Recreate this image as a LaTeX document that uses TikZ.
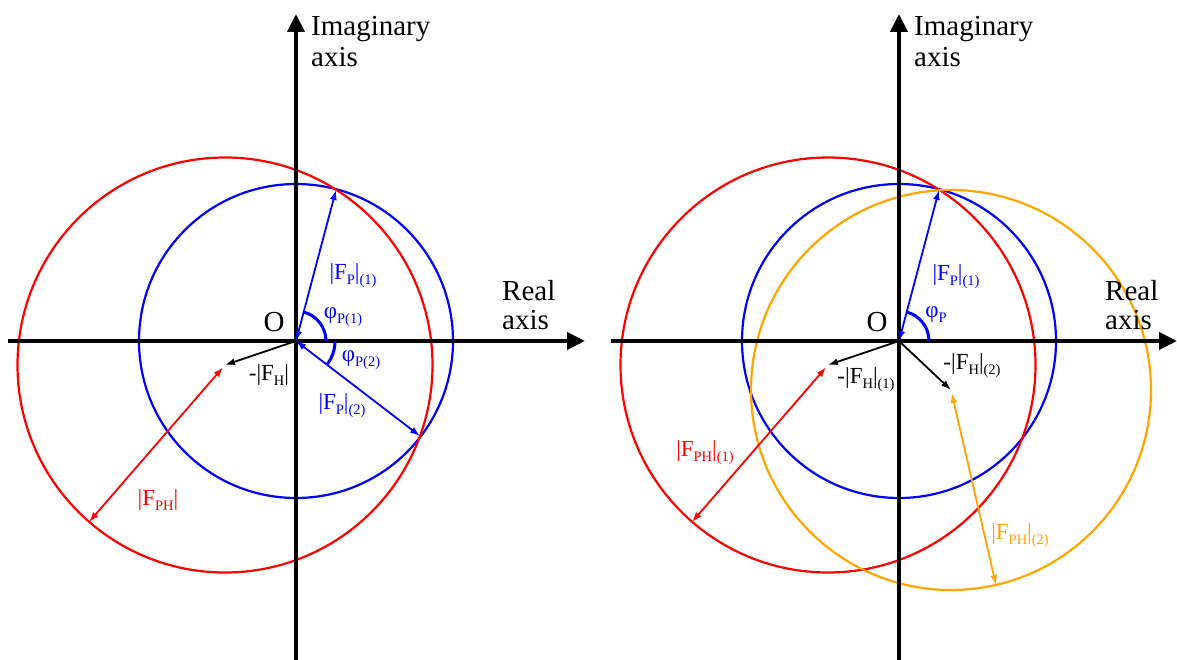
\documentclass[tikz,border=0pt]{standalone}
\usepackage{fontspec}
\setmainfont{Liberation Serif}
\usetikzlibrary{arrows.meta}
\definecolor{myblue}{RGB}{0,0,255}
\definecolor{myred}{RGB}{255,0,0}
\definecolor{myorange}{RGB}{255,165,0}
\newcommand\subt[1]{\raisebox{-5pt}{\fontsize{14.5}{15}\selectfont #1}}
\begin{document}
\begin{tikzpicture}[x=1pt,y=-1pt,
  >={Latex[length=10pt,width=7pt]},
  axis/.style={line width=4pt,-{Triangle[length=18pt,width=17pt]}},
  circ/.style={line width=2.2pt},
  vec/.style={line width=1.8pt},
  angarc/.style={line width=3pt,myblue},
  big/.style={font=\fontsize{29}{32}\selectfont,inner sep=0pt},
  lab/.style={font=\fontsize{23}{26}\selectfont,inner sep=0pt}]
\fill[white] (0,0) rectangle (1177,660);
\useasboundingbox (0,0) rectangle (1177,660);
% ---------- coordinates, left panel
\coordinate (O1) at (296,341);
\coordinate (C1) at (225,365);
\coordinate (P1L) at (336,190);
\coordinate (P2L) at (420,436);
\coordinate (R1L) at (89,522);
\coordinate (xs1) at (8,341);
\coordinate (xe1) at (585,341);
\coordinate (ys1) at (296,660);
\coordinate (ye1) at (296,14);
% ---------- coordinates, right panel
\coordinate (O2) at (899,341);
\coordinate (C2) at (828,365);
\coordinate (D2) at (951,390);
\coordinate (P1R) at (939,190);
\coordinate (R1R) at (692,522);
\coordinate (Q2R) at (996,585);
\coordinate (xs2) at (611,341);
\coordinate (xe2) at (1177,341);
\coordinate (ys2) at (899,660);
\coordinate (ye2) at (899,14);
% ---------- circles
\draw[circ,myblue] (O1) circle (157pt);
\draw[circ,myred] (C1) circle (207.5pt);
\draw[circ,myblue] (O2) circle (157pt);
\draw[circ,myred] (C2) circle (207.5pt);
\draw[circ,myorange] (D2) circle (200pt);
% ---------- axes
\draw[axis] (xs1) -- (xe1);
\draw[axis] (ys1) -- (ye1);
\draw[axis] (xs2) -- (xe2);
\draw[axis] (ys2) -- (ye2);
% ---------- vectors left
\draw[vec,myblue,<->] (O1) -- (P1L);
\draw[vec,myblue,<->] (O1) -- (P2L);
\draw[vec,black,->] (O1) -- (C1);
\draw[vec,myred,<->,shorten <=3pt] (C1) -- (R1L);
\draw[angarc] ([xshift=30pt]O1) arc[start angle=0,end angle=75,radius=30pt];
\draw[angarc] ([xshift=39pt]O1) arc[start angle=0,end angle=-36,radius=39pt];
% ---------- vectors right
\draw[vec,myblue,<->] (O2) -- (P1R);
\draw[vec,black,->] (O2) -- (C2);
\draw[vec,black,->] (O2) -- (D2);
\draw[vec,myred,<->,shorten <=3pt] (C2) -- (R1R);
\draw[vec,myorange,<->,shorten <=3pt] (D2) -- (Q2R);
\draw[angarc] ([xshift=30pt]O2) arc[start angle=0,end angle=75,radius=30pt];
% ---------- labels left
\node[big,anchor=base west] (im1a) at (311,36) {Imaginary};
\node[big,anchor=base west] (im1b) at (311,67) {axis};
\node[big,anchor=base west] (re1a) at (502,300) {Real};
\node[big,anchor=base west] (re1b) at (502,329) {axis};
\node[big] (o1) at (274,322) {O};
\node[lab,myblue] (fp1L) at (353,276) {|F\subt{P}|\subt{(1)}};
\node[lab,myblue] (ph1L) at (343,317) {φ\subt{P(1)}};
\node[lab,myblue] (ph2L) at (361,360) {φ\subt{P(2)}};
\node[lab] (fhL) at (269,375) {-|F\subt{H}|};
\node[lab,myblue] (fp2L) at (342,406) {|F\subt{P}|\subt{(2)}};
\node[lab,myred] (fphL) at (158,500) {|F\subt{PH}|};
% ---------- labels right
\node[big,anchor=base west] (im2a) at (914,36) {Imaginary};
\node[big,anchor=base west] (im2b) at (914,67) {axis};
\node[big,anchor=base west] (re2a) at (1105,300) {Real};
\node[big,anchor=base west] (re2b) at (1105,329) {axis};
\node[big] (o2) at (877,322) {O};
\node[lab,myblue] (fp1R) at (956,277) {|F\subt{P}|\subt{(1)}};
\node[lab,myblue] (phR) at (936,315) {φ\subt{P}};
\node[lab] (fh1R) at (866,380) {-|F\subt{H}|\subt{(1)}};
\node[lab] (fh2R) at (972,366) {-|F\subt{H}|\subt{(2)}};
\node[lab,myred] (fph1R) at (705,453) {|F\subt{PH}|\subt{(1)}};
\node[lab,myorange] (fph2R) at (1020,536) {|F\subt{PH}|\subt{(2)}};
\end{tikzpicture}
\end{document}
